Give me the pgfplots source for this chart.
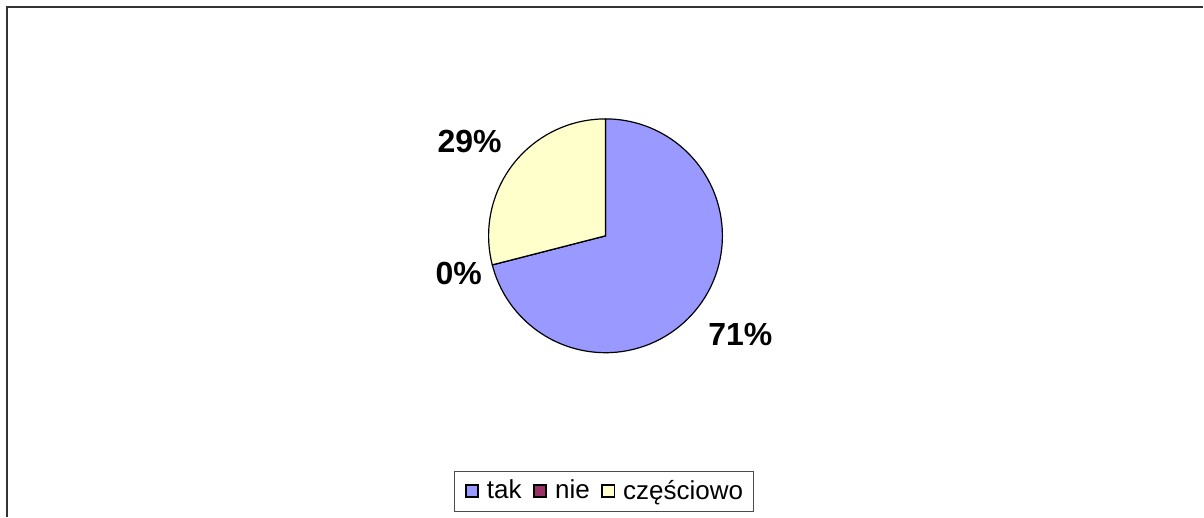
\documentclass[border=0pt]{standalone}
\usepackage{pgfplots}
\pgfplotsset{compat=1.18}
\usepackage{pgfplotstable}
\usepackage{fontspec}
\setmainfont{Liberation Sans}
\definecolor{takc}{HTML}{9999FF}
\definecolor{niec}{HTML}{993366}
\definecolor{czc}{HTML}{FFFFCC}
\pgfplotstableread{
label value
tak 71
nie 0
czesciowo 29
}\piedata
\pgfplotstablegetelem{0}{value}\of\piedata \let\vA\pgfplotsretval
\pgfplotstablegetelem{1}{value}\of\piedata \let\vB\pgfplotsretval
\pgfplotstablegetelem{2}{value}\of\piedata \let\vC\pgfplotsretval
\pgfmathsetmacro{\aZ}{90}
\pgfmathsetmacro{\aA}{\aZ-3.6*\vA}
\pgfmathsetmacro{\aB}{\aA-3.6*\vB}
\pgfmathsetmacro{\aC}{\aB-3.6*\vC}
\begin{document}
\begin{tikzpicture}
\begin{axis}[
  scale only axis, width=602pt, height=258.5pt,
  xmin=0, xmax=1204, ymin=0, ymax=517,
  hide axis, clip=false,
  legend columns=-1,
  legend image code/.code={\draw[#1, line width=0.8pt] (0pt,-3.1pt) rectangle (6.2pt,3.1pt);},
  legend style={at={(axis cs:604.5,25.5)}, anchor=center, draw=black!70, line width=0.5pt,
    font=\fontsize{13}{15}\selectfont, inner xsep=5pt, inner ysep=3pt,
    nodes={inner xsep=0pt, inner ysep=1.5pt},
    /tikz/every odd column/.append style={column sep=4pt},
    /tikz/every even column/.append style={column sep=5.75pt}},
]
\path (axis cs:0,0) rectangle (axis cs:1204,517);
\addlegendimage{fill=takc, draw=black}
\addlegendentry{tak}
\addlegendimage{fill=niec, draw=black}
\addlegendentry{nie}
\addlegendimage{fill=czc, draw=black}
\addlegendentry{częściowo}
\filldraw[fill=takc, draw=black, line width=0.6pt] (axis cs:606,281) -- ++(\aZ:58.5pt) arc[start angle=\aZ, end angle=\aA, radius=58.5pt] -- cycle;
\filldraw[fill=niec, draw=black, line width=0.6pt] (axis cs:606,281) -- ++(\aA:58.5pt) arc[start angle=\aA, end angle=\aB, radius=58.5pt] -- cycle;
\filldraw[fill=czc, draw=black, line width=0.6pt] (axis cs:606,281) -- ++(\aB:58.5pt) arc[start angle=\aB, end angle=\aC, radius=58.5pt] -- cycle;
\node[font=\fontsize{16}{18}\selectfont\bfseries] at (axis cs:741,182) {71\%};
\node[font=\fontsize{16}{18}\selectfont\bfseries] at (axis cs:459,243) {0\%};
\node[font=\fontsize{16}{18}\selectfont\bfseries] at (axis cs:470,375) {29\%};
\draw[black!80, line width=1pt] (axis cs:7,0) -- (axis cs:7,510) -- (axis cs:1204,510);
\end{axis}
\end{tikzpicture}
\end{document}
